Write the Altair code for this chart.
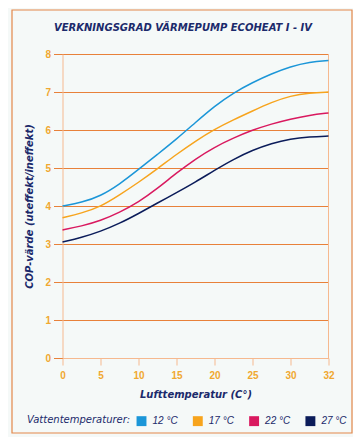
import altair as alt
import pandas as pd

# Data
x_vals = [0, 2.5, 5, 7.5, 10, 12.5, 15, 17.5, 20, 22.5, 25, 27.5, 30, 31, 32]
cop_12 = [4.00, 4.09, 4.26, 4.57, 4.96, 5.36, 5.76, 6.20, 6.63, 6.98, 7.25, 7.48, 7.67, 7.79, 7.83]
cop_17 = [3.69, 3.81, 3.98, 4.29, 4.62, 4.98, 5.36, 5.71, 6.02, 6.27, 6.50, 6.73, 6.90, 6.98, 7.00]
cop_22 = [3.37, 3.47, 3.61, 3.83, 4.10, 4.46, 4.87, 5.24, 5.55, 5.79, 6.00, 6.16, 6.29, 6.39, 6.45]
cop_27 = [3.05, 3.17, 3.33, 3.54, 3.80, 4.08, 4.35, 4.63, 4.94, 5.23, 5.47, 5.65, 5.77, 5.82, 5.84]
series = ["12 °C", "17 °C", "22 °C", "27 °C"]
colors = ["#1b96d8", "#f7a41d", "#d9195f", "#0b1c5a"]
x_ticks = [0, 5, 10, 15, 20, 25, 30, 32]
y_ticks = [0, 1, 2, 3, 4, 5, 6, 7, 8]
title_text = "VERKNINGSGRAD VÄRMEPUMP  ECOHEAT I - IV"
legend_title = "Vattentemperaturer:"

rows = []
for name, vals in zip(series, [cop_12, cop_17, cop_22, cop_27]):
    for xv, yv in zip(x_vals, vals):
        rows.append({"x": xv, "y": yv, "serie": name})
df = pd.DataFrame(rows)

GRID = "#e8813a"
LIGHT = "#f6b98f"
LABEL = "#f0a830"
NAVY = "#1b2a6b"
FONT = "Liberation Sans"
TFONT = "DejaVu Sans"

x_enc = alt.X("x:Q", scale=alt.Scale(domain=[0, 30, 32], range=[0, 228, 266], nice=False),
              axis=alt.Axis(values=x_ticks, grid=False, title="Lufttemperatur (C°)",
                            labelOverlap=False, labelFlush=False,
                            domainColor=LIGHT, tickColor=LIGHT, tickSize=7,
                            labelColor=LABEL, labelFontSize=10, labelFont=FONT,
                            labelFontWeight="bold", labelPadding=5,
                            titleColor=NAVY, titleFont=TFONT, titleFontSize=10,
                            titleFontStyle="italic", titleFontWeight="bold",
                            titlePadding=9))
y_enc = alt.Y("y:Q", scale=alt.Scale(domain=[0, 8], nice=False),
              axis=alt.Axis(values=y_ticks, grid=True, gridColor=GRID, gridWidth=1,
                            title="COP-värde (uteffekt/ineffekt)",
                            labelOverlap=False,
                            domainColor=LIGHT, tickColor=GRID, tickSize=9,
                            labelColor=LABEL, labelFontSize=10, labelFont=FONT,
                            labelFontWeight="bold", labelPadding=3,
                            titleColor=NAVY, titleFont=TFONT, titleFontSize=10,
                            titleFontStyle="italic", titleFontWeight="bold",
                            titlePadding=10))

lines = alt.Chart(df).mark_line(strokeWidth=1.5, interpolate="basis").encode(
    x=x_enc, y=y_enc,
    color=alt.Color("serie:N", scale=alt.Scale(domain=series, range=colors),
                    legend=alt.Legend(title=None, orient="none",
                                      legendX=74, legendY=362, direction="horizontal",
                                      symbolType="square", symbolSize=2,
                                      symbolStrokeWidth=8.5, symbolOpacity=1,
                                      labelFont=FONT, labelFontSize=10,
                                      labelFontStyle="italic", labelColor=NAVY,
                                      labelOffset=6, columnPadding=1.3)),
)

right_edge = alt.Chart(pd.DataFrame({"x": [32]})).mark_rule(color=LIGHT, strokeWidth=1).encode(
    x=x_enc
)

frame = alt.Chart(pd.DataFrame({"a": [0]})).mark_rect(
    fill=None, stroke="#e3874a", strokeWidth=1.2
).encode(
    x=alt.value(-50.5), x2=alt.value(289.5), y=alt.value(-44), y2=alt.value(379)
)

title = alt.Chart(pd.DataFrame({"t": [title_text]})).mark_text(
    font=TFONT, fontSize=10, fontStyle="italic", fontWeight="bold",
    color=NAVY, align="center", baseline="middle"
).encode(text="t:N", x=alt.value(120.5), y=alt.value(-26))

leg_title = alt.Chart(pd.DataFrame({"t": [legend_title]})).mark_text(
    font=TFONT, fontSize=10, fontStyle="italic",
    color=NAVY, align="left", baseline="middle"
).encode(text="t:N", x=alt.value(-35.5), y=alt.value(366))

chart = alt.layer(right_edge, lines, frame, title, leg_title).properties(
    width=266, height=304,
    autosize=alt.AutoSizeParams(type="none"),
    padding={"left": 54.5, "top": 46, "right": 24.5, "bottom": 79},
    background="#f5f9f8",
).configure_view(stroke=None)

chart.save("out.html", embed_options={"renderer": "svg", "actions": False})
